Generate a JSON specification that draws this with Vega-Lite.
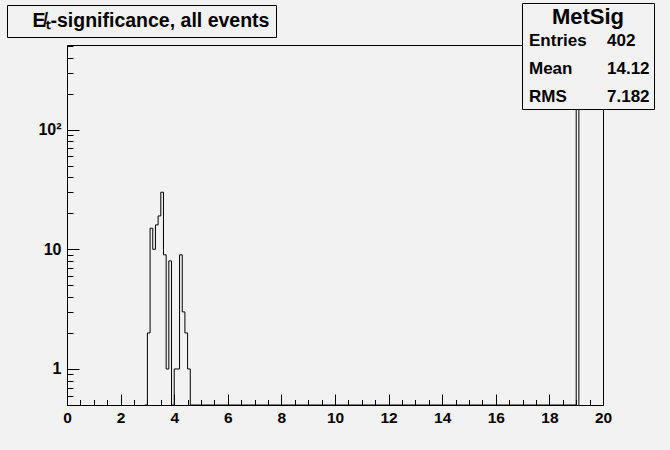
{
  "$schema": "https://vega.github.io/schema/vega-lite/v6.json",
  "width": 536,
  "height": 360,
  "autosize": {"type": "none"},
  "padding": {"left": 67, "top": 45, "right": 67, "bottom": 45},
  "background": "#f2f2f2",
  "config": {
    "view": {"fill": "#f2f2f2", "stroke": "black", "strokeWidth": 1},
    "font": "Liberation Sans"
  },
  "datasets": {
    "hist": [
      {"bin_start": 2.9, "count": 0},
      {"bin_start": 3.0, "count": 2},
      {"bin_start": 3.1, "count": 15},
      {"bin_start": 3.2, "count": 10},
      {"bin_start": 3.3, "count": 16},
      {"bin_start": 3.4, "count": 19},
      {"bin_start": 3.5, "count": 30},
      {"bin_start": 3.6, "count": 9},
      {"bin_start": 3.7, "count": 1},
      {"bin_start": 3.8, "count": 8},
      {"bin_start": 3.9, "count": 0},
      {"bin_start": 4.0, "count": 1},
      {"bin_start": 4.1, "count": 1},
      {"bin_start": 4.2, "count": 9},
      {"bin_start": 4.3, "count": 3},
      {"bin_start": 4.4, "count": 2},
      {"bin_start": 4.5, "count": 1},
      {"bin_start": 4.6, "count": 0},
      {"bin_start": 19.0, "count": 275},
      {"bin_start": 19.1, "count": 0}
    ],
    "stats": [
      {"name": "Entries", "number": "402"},
      {"name": "Mean", "number": "14.12"},
      {"name": "RMS", "number": "7.182"}
    ],
    "heading": [
      {"title": "E\u0338\u209c-significance, all events"}
    ]
  },
  "layer": [
    {
      "data": {"name": "hist"},
      "mark": {"type": "line", "interpolate": "step-after", "color": "black", "strokeWidth": 1, "invalid": "show"},
      "encoding": {
        "x": {
          "field": "bin_start", "type": "quantitative",
          "scale": {"domain": [0, 20], "nice": false, "zero": false},
          "axis": {
            "title": null, "grid": false,
            "values": [0,0.5,1,1.5,2,2.5,3,3.5,4,4.5,5,5.5,6,6.5,7,7.5,8,8.5,9,9.5,10,10.5,11,11.5,12,12.5,13,13.5,14,14.5,15,15.5,16,16.5,17,17.5,18,18.5,19,19.5,20],
            "tickSize": {"expr": "datum.value % 2 === 0 ? -11 : -5.5"},
            "labelExpr": "datum.value % 2 === 0 ? format(datum.value, 'd') : ''",
            "labelOverlap": false, "labelBound": false, "labelFlush": false,
            "labelPadding": 16,
            "labelFont": "Liberation Sans", "labelFontWeight": "bold", "labelFontSize": 15.5, "labelColor": "black",
            "domainColor": "black", "tickColor": "black", "tickWidth": 1, "domainWidth": 1
          }
        },
        "y": {
          "field": "count", "type": "quantitative",
          "scale": {"type": "log", "domain": [0.5, 510], "nice": false, "clamp": true},
          "axis": {
            "title": null, "grid": false,
            "values": [0.5,0.6,0.7,0.8,0.9,1,2,3,4,5,6,7,8,9,10,20,30,40,50,60,70,80,90,100,200,300,400,500],
            "tickSize": {"expr": "datum.value === 1 || datum.value === 10 || datum.value === 100 ? -12 : -6"},
            "labelExpr": "datum.value === 1 ? '1' : datum.value === 10 ? '10' : datum.value === 100 ? '10²' : ''",
            "labelOverlap": false, "labelBound": false, "labelFlush": false,
            "labelPadding": 18,
            "labelFont": "Liberation Sans", "labelFontWeight": "bold", "labelFontSize": 16, "labelColor": "black",
            "domainColor": "black", "tickColor": "black", "tickWidth": 1, "domainWidth": 1
          }
        }
      }
    },
    {
      "data": {"name": "stats"},
      "transform": [{"fold": ["name", "number"], "as": ["col", "cell"]}],
      "mark": {"type": "point", "opacity": 0},
      "encoding": {
        "color": {
          "field": "cell", "type": "nominal",
          "sort": ["Entries", "Mean", "RMS", "402", "14.12", "7.182"],
          "scale": {"range": ["black"]},
          "legend": {
            "orient": "none", "legendX": 455, "legendY": -42,
            "title": "MetSig", "titleFont": "Liberation Sans", "titleFontSize": 22, "titleFontWeight": "bold",
            "titleColor": "black", "titleAnchor": "middle", "titlePadding": 3,
            "columns": 2, "columnPadding": 17, "rowPadding": 10,
            "labelFont": "Liberation Sans", "labelFontSize": 17, "labelFontWeight": "bold", "labelColor": "black",
            "labelLimit": 300, "labelOffset": -14,
            "labelExpr": "datum.label === '402' ? '\u2007\u2008402' : datum.label",
            "symbolSize": 0, "symbolOpacity": 0, "symbolStrokeWidth": 0,
            "strokeColor": "black", "fillColor": "#f2f2f2", "padding": 4, "cornerRadius": 0
          }
        }
      }
    },
    {
      "data": {"name": "heading"},
      "mark": {"type": "point", "opacity": 0},
      "encoding": {
        "shape": {
          "field": "title", "type": "nominal",
          "legend": {
            "orient": "none", "legendX": -60, "legendY": -40,
            "title": null,
            "labelFont": "Liberation Sans", "labelFontSize": 19.5, "labelFontWeight": "bold", "labelColor": "black",
            "labelLimit": 400, "labelOffset": 0,
            "symbolSize": 0, "symbolOpacity": 0, "symbolStrokeWidth": 0,
            "strokeColor": "black", "fillColor": "#f2f2f2", "padding": 6, "cornerRadius": 0
          }
        }
      }
    }
  ]
}
